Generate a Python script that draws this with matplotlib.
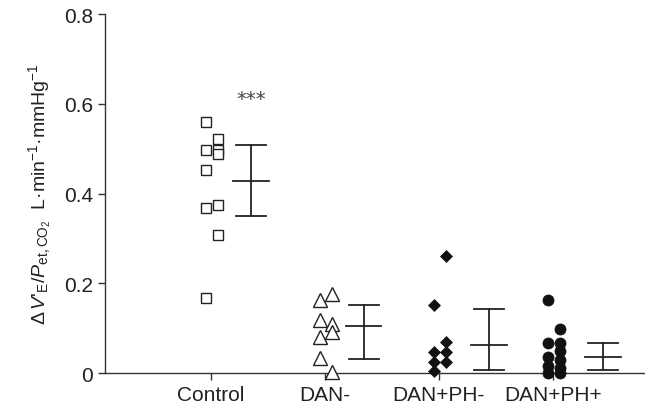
import numpy as np
import matplotlib
matplotlib.use('Agg')
import matplotlib.pyplot as plt

plt.rcParams['font.family'] = ['Liberation Sans Narrow', 'Liberation Sans', 'DejaVu Sans']
plt.rcParams['mathtext.fontset'] = 'custom'
plt.rcParams['mathtext.rm'] = 'Liberation Sans'
plt.rcParams['mathtext.it'] = 'Liberation Sans:italic'

groups = ['Control', 'DAN-', 'DAN+PH-', 'DAN+PH+']

# individual values, split into left / right columns as drawn
control_left = [0.560, 0.497, 0.453, 0.367, 0.167]
control_right = [0.521, 0.497, 0.488, 0.375, 0.308]
danm_left = [0.163, 0.118, 0.081, 0.034]
danm_right = [0.176, 0.110, 0.091, 0.002]
danphm_left = [0.151, 0.046, 0.025, 0.004]
danphm_right = [0.260, 0.068, 0.046, 0.025]
danphp_left = [0.163, 0.067, 0.035, 0.016, 0.001]
danphp_right = [0.097, 0.067, 0.048, 0.029, 0.011, 0.001]

# mean with lower / upper bar ends
means = [0.427, 0.105, 0.062, 0.035]
lower = [0.350, 0.031, 0.007, 0.007]
upper = [0.508, 0.152, 0.143, 0.066]
bar_offset = [0.35, 0.34, 0.44, 0.44]

fig = plt.figure(figsize=(6.45, 4.14), dpi=100)
ax = fig.add_axes([0.1628, 0.0966, 0.837, 0.867])

styles = [
    dict(marker='s', ms=7.5, mfc='white', mec='#222222', mew=1.0),
    dict(marker='^', ms=9.5, mfc='white', mec='#222222', mew=1.0),
    dict(marker='D', ms=6, mfc='#111111', mec='#111111', mew=0.5),
    dict(marker='o', ms=8, mfc='#111111', mec='#111111', mew=0.5),
]
columns = [(control_left, control_right), (danm_left, danm_right),
           (danphm_left, danphm_right), (danphp_left, danphp_right)]

for i, (left, right) in enumerate(columns):
    xs = i - 0.045
    ax.plot([xs] * len(left), left, ls='none', clip_on=False, zorder=3, **styles[i])
    xs = i + 0.06
    ax.plot([xs] * len(right), right, ls='none', clip_on=False, zorder=3, **styles[i])

    xb = i + bar_offset[i]
    ax.plot([xb, xb], [lower[i], upper[i]], color='#222222', lw=1.3)
    ax.plot([xb - 0.13, xb + 0.13], [upper[i], upper[i]], color='#222222', lw=1.3)
    ax.plot([xb - 0.13, xb + 0.13], [lower[i], lower[i]], color='#222222', lw=1.3)
    ax.plot([xb - 0.155, xb + 0.155], [means[i], means[i]], color='#222222', lw=1.3)

ax.text(0 + 0.35, 0.612, '***', ha='center', va='center', fontsize=14, color='#444444',
        family='DejaVu Sans')

ax.set_xlim(-0.93, 3.807)
ax.set_ylim(0, 0.8)
ax.set_xticks(range(len(groups)))
ax.set_xticklabels(groups)
ax.set_yticks([0, 0.2, 0.4, 0.6, 0.8])
ax.set_yticklabels(['0', '0.2', '0.4', '0.6', '0.8'])
ax.tick_params(labelsize=15, length=5, width=1.0, color='#333333', labelcolor='#222222')
for s in ['top', 'right']:
    ax.spines[s].set_visible(False)
for s in ['left', 'bottom']:
    ax.spines[s].set_color('#333333')
    ax.spines[s].set_linewidth(1.0)

ax.set_ylabel(r"$\Delta\,\mathit{V}$'$_{\rm E}$/$\mathit{P}_{\rm et,CO_2}$  L·min$^{-1}$·mmHg$^{-1}$",
              fontsize=14, color='#222222', labelpad=8)

fig.savefig('out.png', dpi=100)
